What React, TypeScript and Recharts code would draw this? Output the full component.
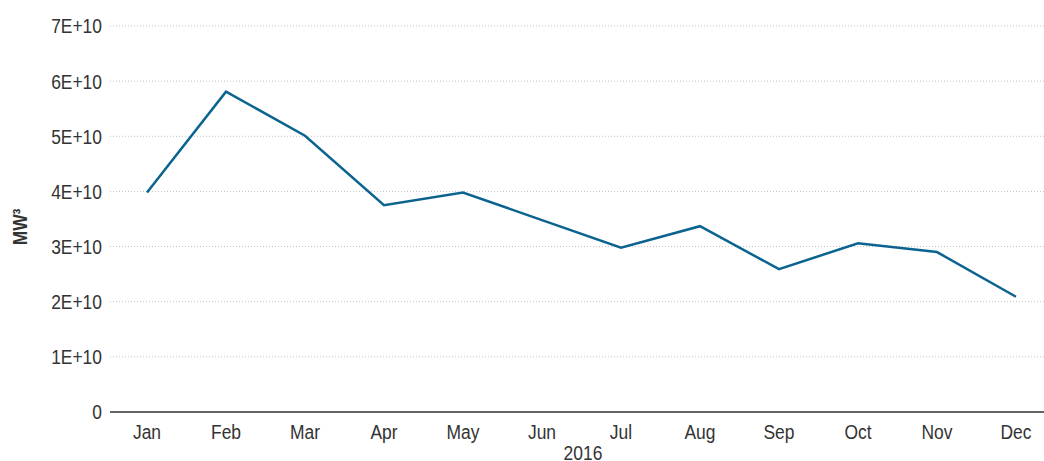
import React from 'react';
import { LineChart, Line, XAxis, YAxis, CartesianGrid } from 'recharts';

const months = ['Jan', 'Feb', 'Mar', 'Apr', 'May', 'Jun', 'Jul', 'Aug', 'Sep', 'Oct', 'Nov', 'Dec'];
const volume = [3.98e10, 5.81e10, 5.01e10, 3.75e10, 3.98e10, 3.48e10, 2.98e10, 3.37e10, 2.59e10, 3.06e10, 2.9e10, 2.09e10];
const yTicks = [0, 1e10, 2e10, 3e10, 4e10, 5e10, 6e10, 7e10];

const data = months.map((m, i) => ({ month: m, value: volume[i] }));

const FONT = '"Liberation Sans", Arial, sans-serif';
const TEXT = '#333333';
const SQUEEZE = 0.83; // the source font is a narrow face

const fmtY = (v: number) => (v === 0 ? '0' : `${Math.round(v / 1e10)}E+10`);

const XTick = (props: any) => {
  const { x, y, payload } = props;
  return (
    <g transform={`translate(${x},${y})`}>
      <text transform={`scale(${SQUEEZE},1)`} textAnchor="middle" dy="0.71em" fontFamily={FONT} fontSize={21} fill={TEXT}>
        {payload.value}
      </text>
    </g>
  );
};

const YTick = (props: any) => {
  const { x, y, payload } = props;
  return (
    <g transform={`translate(${x},${y})`}>
      <text transform={`scale(${SQUEEZE},1)`} textAnchor="end" dy="0.355em" fontFamily={FONT} fontSize={21} fill={TEXT}>
        {fmtY(payload.value)}
      </text>
    </g>
  );
};

const XTitle = (props: any) => {
  const { viewBox } = props;
  const cx = 583;
  const cy = viewBox.y + viewBox.height + 18;
  return (
    <g transform={`translate(${cx},${cy})`}>
      <text transform={`scale(${SQUEEZE},1)`} textAnchor="middle" fontFamily={FONT} fontSize={21} fill={TEXT}>
        2016
      </text>
    </g>
  );
};

const YTitle = (props: any) => {
  const { viewBox } = props;
  const cx = 20;
  const cy = viewBox.y + viewBox.height / 2 + 8;
  return (
    <g transform={`translate(${cx},${cy}) rotate(-90)`}>
      <text transform={`scale(${SQUEEZE},1)`} textAnchor="middle" dominantBaseline="central" fontFamily={FONT} fontSize={21} fontWeight="bold" fill={TEXT}>
        MW³
      </text>
    </g>
  );
};

export default function App() {
  return (
    <div style={{ position: 'absolute', left: 0, top: 0, background: '#fff' }}>
      <LineChart width={1044} height={461} data={data} margin={{ top: 26, right: 0, bottom: 19, left: 0 }}>
        <CartesianGrid vertical={false} stroke="#c4c4c4" strokeDasharray="1 2" />
        <XAxis
          dataKey="month"
          scale="point"
          padding={{ left: 37, right: 28 }}
          height={30}
          tickLine={false}
          tickMargin={6}
          axisLine={{ stroke: '#333333', strokeWidth: 1.5 }}
          tick={<XTick />}
          label={<XTitle />}
        />
        <YAxis
          width={110}
          domain={[0, 7e10]}
          ticks={yTicks}
          axisLine={false}
          tickLine={false}
          tick={<YTick />}
          label={<YTitle />}
        />
        <Line
          type="linear"
          dataKey="value"
          stroke="#0b6390"
          strokeWidth={2.5}
          dot={false}
          activeDot={false}
          isAnimationActive={false}
        />
      </LineChart>
    </div>
  );
}
